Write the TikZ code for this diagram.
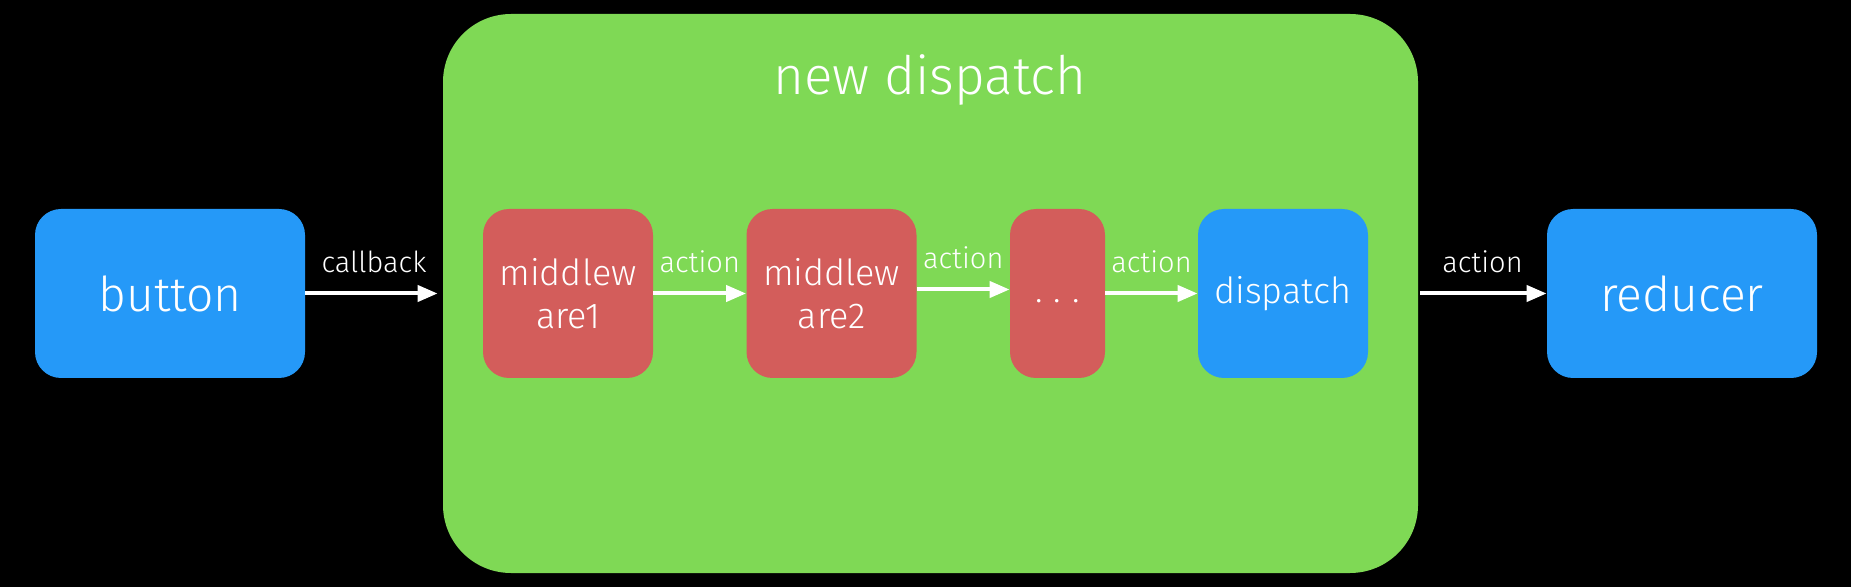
\documentclass[tikz,border=0pt]{standalone}
\usepackage{fontspec}
\setmainfont{Fira Sans}[UprightFont=* Light]
\usetikzlibrary{arrows.meta,positioning}
\definecolor{canvas}{HTML}{000000}
\definecolor{storeblue}{HTML}{2599F8}
\definecolor{wrapgreen}{HTML}{7FD955}
\definecolor{middlered}{HTML}{D35D5B}

\begin{document}
\begin{tikzpicture}[
  x=0.5pt, y=-0.5pt,
  >={Triangle[length=10pt, width=8pt]},
  endpoint/.style={fill=storeblue, rounded corners=13pt, text=white, inner sep=0pt,
    minimum width=135pt, minimum height=84.5pt, font=\fontsize{24}{28}\selectfont},
  inner/.style={rounded corners=13pt, text=white, inner sep=0pt, align=center,
    minimum width=85pt, minimum height=84.5pt, font=\fontsize{18}{21.5}\selectfont},
  middle/.style={inner, fill=middlered},
  wrapper/.style={fill=wrapgreen, rounded corners=34pt, inner sep=0pt,
    minimum width=487.5pt, minimum height=279.5pt},
  flow/.style={->, draw=white, line width=2pt},
  flowlabel/.style={text=white, inner sep=0pt, anchor=base, yshift=10.5pt,
    font=\fontsize{14.5}{17}\selectfont}
]

\fill[canvas] (0,0) rectangle (1851,587);

\node[wrapper] (wrap) at (930.5,293.5) {};
\node[text=white, anchor=base, inner sep=0pt, font=\fontsize{26.5}{30}\selectfont] (title) at (930,95) {new dispatch};

\node[endpoint] (button) at (170,293.5) {button};
\node[middle] (mw1) at (568,293.5) {middlew\\are1};
\node[middle] (mw2) at (831.5,293.5) {middlew\\are2};
\node[middle, minimum width=47.5pt] (more) at (1057.5,293.5) {\strut.\hspace{0.3em}.\hspace{0.3em}.};
\node[inner, fill=storeblue] (dispatch) at (1283,293.5) {\raisebox{-2pt}{dispatch}};
\node[endpoint] (reducer) at (1682,293.5) {reducer};

\draw[flow, shorten >=2.5pt] (button) -- (wrap.west |- button) node[flowlabel, midway] {callback};
\draw[flow] (mw1) -- (mw2) node[flowlabel, midway] {action};
\draw[flow] ([yshift=2pt]mw2.east) -- ([yshift=2pt]more.west) node[flowlabel, midway] {action};
\draw[flow] (more) -- (dispatch) node[flowlabel, midway] {action};
\draw[flow, shorten <=1pt] (wrap.east |- button) -- (reducer) node[flowlabel, midway] {action};
\end{tikzpicture}
\end{document}
